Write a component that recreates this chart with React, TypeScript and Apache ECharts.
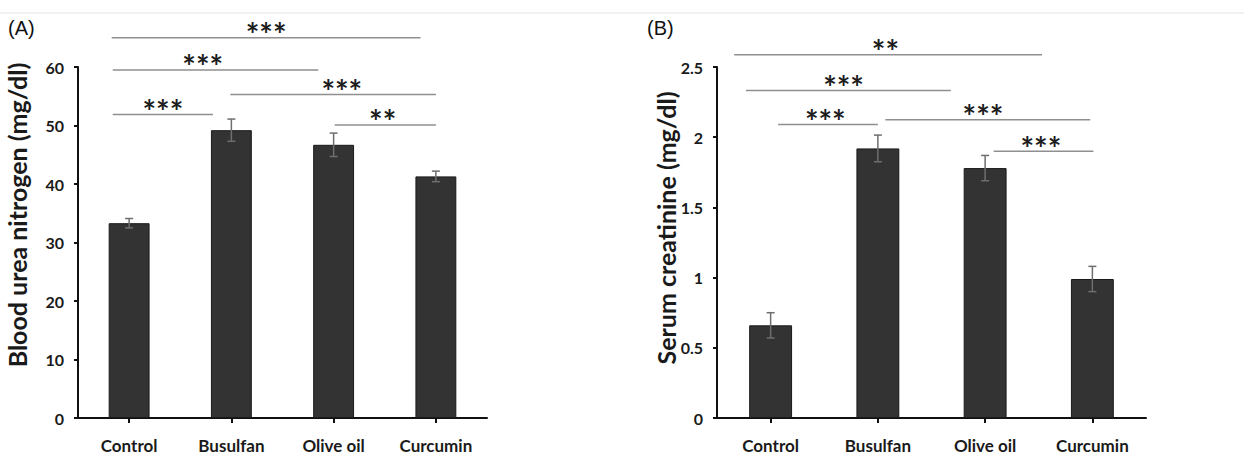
import React, { useEffect, useRef } from "react";
import * as echarts from "echarts";

const categories = ["Control", "Busulfan", "Olive oil", "Curcumin"];

// Panel A: Blood urea nitrogen (mg/dl)
const bunMeans = [33.3, 49.2, 46.7, 41.3];
const bunErrors = [0.8, 1.9, 2.0, 0.9];
const bunTicks = { min: 0, max: 60, interval: 10 };
// comparisons: [line start (category units), line end, level (mg/dl), stars centre]
const bunComparisons = [
  [-0.17, 2.85, 65.0, 1.34],
  [-0.16, 1.85, 59.5, 0.72],
  [-0.16, 0.82, 51.9, 0.33],
  [0.99, 3.0, 55.3, 2.08],
  [2.01, 3.0, 50.1, 2.48],
];
const bunStars = ["***", "***", "***", "***", "**"];

// Panel B: Serum creatinine (mg/dl)
const scrMeans = [0.66, 1.92, 1.78, 0.99];
const scrErrors = [0.09, 0.095, 0.09, 0.09];
const scrTicks = { min: 0, max: 2.5, interval: 0.5 };
const scrComparisons = [
  [-0.34, 2.53, 2.588, 1.07],
  [-0.23, 1.68, 2.332, 0.68],
  [0.07, 1.0, 2.09, 0.51],
  [1.07, 2.98, 2.125, 1.98],
  [2.08, 3.01, 1.9, 2.52],
];
const scrStars = ["**", "***", "***", "***", "***"];

const LABEL_FONT = "Lato, 'Open Sans', sans-serif";

function errorSeries(xAxisIndex: number, yAxisIndex: number, means: number[], errs: number[]) {
  return {
    type: "custom",
    xAxisIndex,
    yAxisIndex,
    z: 5,
    silent: true,
    encode: { x: 0, y: 1 },
    data: means.map((m, i) => [i, m, errs[i]]),
    renderItem: (params: any, api: any) => {
      const i = api.value(0);
      const m = api.value(1);
      const e = api.value(2);
      const top = api.coord([i, m + e]);
      const bot = api.coord([i, m - e]);
      const w = 4;
      const st = { stroke: "#6e6e6e", lineWidth: 1.5 };
      return {
        type: "group",
        children: [
          { type: "line", shape: { x1: top[0], y1: top[1], x2: bot[0], y2: bot[1] }, style: st },
          { type: "line", shape: { x1: top[0] - w, y1: top[1], x2: top[0] + w, y2: top[1] }, style: st },
          { type: "line", shape: { x1: bot[0] - w, y1: bot[1], x2: bot[0] + w, y2: bot[1] }, style: st },
        ],
      };
    },
  };
}

function sigSeries(xAxisIndex: number, yAxisIndex: number, comps: number[][], stars: string[]) {
  return {
    type: "custom",
    xAxisIndex,
    yAxisIndex,
    z: 6,
    silent: true,
    clip: false,
    encode: { x: [0, 1, 3], y: 2 },
    data: comps,
    renderItem: (params: any, api: any) => {
      const y = api.value(2);
      const p1 = api.coord([api.value(0), y]);
      const p2 = api.coord([api.value(1), y]);
      const ps = api.coord([api.value(3), y]);
      return {
        type: "group",
        children: [
          {
            type: "line",
            shape: { x1: p1[0], y1: p1[1], x2: p2[0], y2: p2[1] },
            style: { stroke: "#8f8f8f", lineWidth: 1.5 },
          },
          {
            type: "text",
            x: ps[0],
            y: p1[1] + 13,
            style: {
              text: stars[params.dataIndex],
              fill: "#1c1c1c",
              fontSize: 32,
              fontWeight: "bold",
              fontFamily: LABEL_FONT,
              align: "center",
              verticalAlign: "bottom",
            },
          },
        ],
      };
    },
  };
}

function catAxis(gridIndex: number) {
  return {
    type: "category",
    gridIndex,
    data: categories,
    axisLine: { show: true, onZero: false, lineStyle: { color: "#111", width: 2 } },
    axisTick: { show: true, alignWithLabel: true, length: 5, lineStyle: { color: "#111", width: 2 } },
    axisLabel: {
      color: "#1a1a1a",
      fontSize: 17,
      fontWeight: "bold",
      fontFamily: LABEL_FONT,
      margin: 19,
    },
  };
}

function hiddenX(gridIndex: number) {
  return { type: "value", gridIndex, min: -0.5, max: 3.5, show: false };
}

function valAxis(gridIndex: number, t: { min: number; max: number; interval: number }) {
  return {
    type: "value",
    gridIndex,
    min: t.min,
    max: t.max,
    interval: t.interval,
    splitLine: { show: false },
    axisLine: { show: true, onZero: false, lineStyle: { color: "#111", width: 2 } },
    axisTick: { show: true, length: 4, lineStyle: { color: "#111", width: 2 } },
    axisLabel: {
      color: "#1a1a1a",
      fontSize: 16,
      fontWeight: "bold",
      fontFamily: LABEL_FONT,
      margin: 14,
    },
  };
}

function barSeries(xAxisIndex: number, yAxisIndex: number, values: number[]) {
  return {
    type: "bar",
    xAxisIndex,
    yAxisIndex,
    barWidth: "40%",
    data: values,
    itemStyle: { color: "#333333", borderColor: "#1a1a1a", borderWidth: 1 },
    z: 2,
  };
}

export default function App() {
  const ref = useRef<HTMLDivElement>(null);
  useEffect(() => {
    document.body.style.margin = "0";
    const chart = echarts.init(ref.current!, undefined, { renderer: "svg" });
    chart.setOption({
      animation: false,
      backgroundColor: "#ffffff",
      grid: [
        { left: 78, top: 67, width: 409, height: 351 },
        { left: 717, top: 67, width: 429, height: 351 },
      ],
      xAxis: [catAxis(0), hiddenX(0), catAxis(1), hiddenX(1)],
      yAxis: [valAxis(0, bunTicks), valAxis(1, scrTicks)],
      series: [
        barSeries(0, 0, bunMeans),
        errorSeries(0, 0, bunMeans, bunErrors),
        sigSeries(1, 0, bunComparisons, bunStars),
        barSeries(2, 1, scrMeans),
        errorSeries(2, 1, scrMeans, scrErrors),
        sigSeries(3, 1, scrComparisons, scrStars),
      ],
      graphic: [
        { type: "rect", shape: { x: 0, y: 12, width: 1244, height: 2 }, style: { fill: "#f1f1f1" }, silent: true },
        {
          type: "text",
          x: 8,
          y: 28,
          style: { text: "(A)", fontSize: 20, fontFamily: "'Liberation Sans', Arial, sans-serif", fill: "#111", verticalAlign: "middle", align: "left" },
        },
        {
          type: "text",
          x: 647,
          y: 28,
          style: { text: "(B)", fontSize: 20, fontFamily: "'Liberation Sans', Arial, sans-serif", fill: "#111", verticalAlign: "middle", align: "left" },
        },
        {
          type: "text",
          x: 17,
          y: 215,
          rotation: Math.PI / 2,
          style: {
            text: "Blood urea nitrogen (mg/dl)",
            fontSize: 25,
            fontWeight: "bold",
            fontFamily: LABEL_FONT,
            fill: "#1a1a1a",
            align: "center",
            verticalAlign: "middle",
          },
        },
        {
          type: "text",
          x: 666,
          y: 228,
          rotation: Math.PI / 2,
          style: {
            text: "Serum creatinine (mg/dl)",
            fontSize: 25,
            fontWeight: "bold",
            fontFamily: LABEL_FONT,
            fill: "#1a1a1a",
            align: "center",
            verticalAlign: "middle",
          },
        },
      ],
    });
    return () => chart.dispose();
  }, []);
  return <div ref={ref} style={{ width: 1244, height: 458 }} />;
}
